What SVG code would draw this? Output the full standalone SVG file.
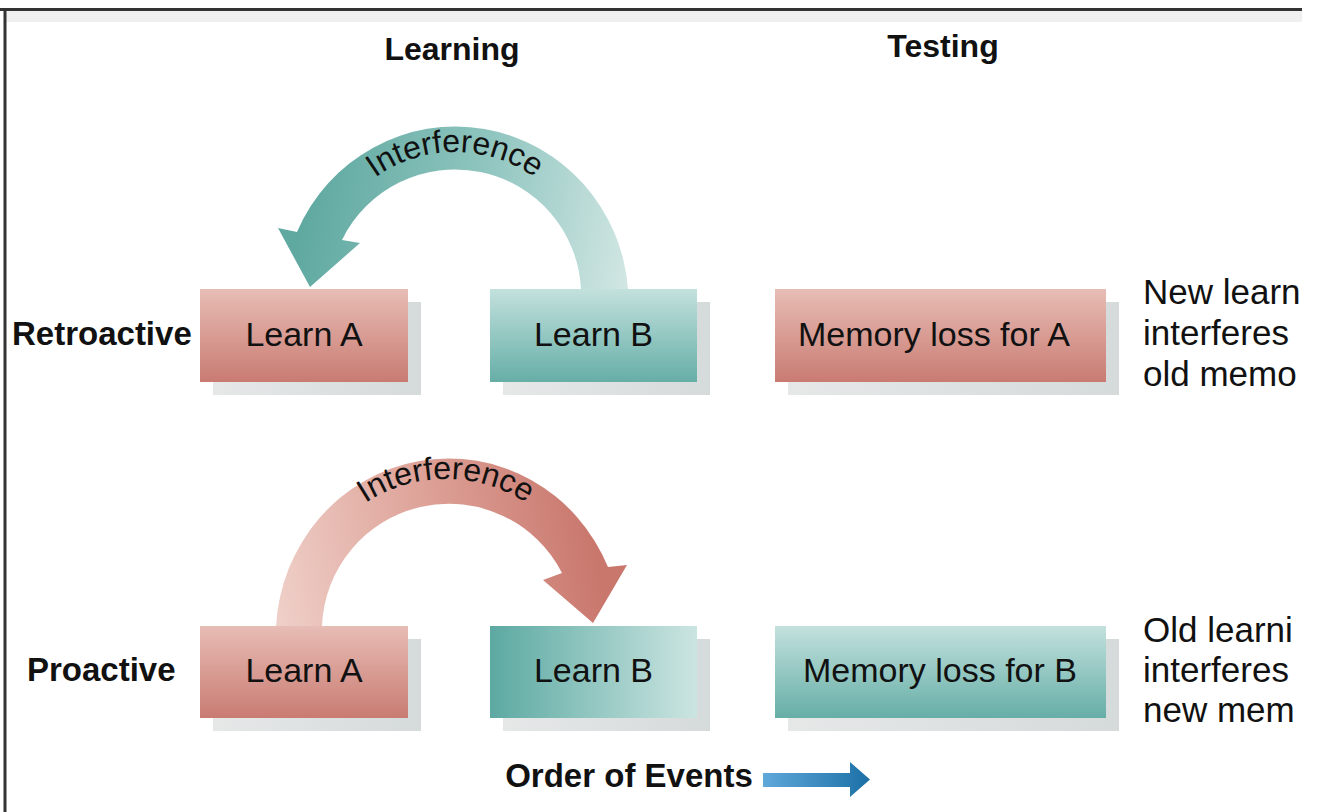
<svg xmlns="http://www.w3.org/2000/svg" width="1318" height="812" viewBox="0 0 1318 812">
<defs>
<linearGradient id="pinkV" x1="0" y1="0" x2="0" y2="1">
<stop offset="0" stop-color="#e7bdb5"/><stop offset="1" stop-color="#c97b72"/>
</linearGradient>
<linearGradient id="tealV" x1="0" y1="0" x2="0" y2="1">
<stop offset="0" stop-color="#c3e1dd"/><stop offset="1" stop-color="#66aea7"/>
</linearGradient>
<linearGradient id="tealH" x1="0" y1="0" x2="1" y2="0">
<stop offset="0" stop-color="#5ca9a2"/><stop offset="1" stop-color="#cbe5e1"/>
</linearGradient>
<linearGradient id="shadow" x1="0" y1="0" x2="1" y2="0">
<stop offset="0" stop-color="#e6e8e8"/><stop offset="1" stop-color="#d5dadb"/>
</linearGradient>
<linearGradient id="retroArrow" gradientUnits="userSpaceOnUse" x1="628" y1="290" x2="300" y2="230">
<stop offset="0" stop-color="#d2e7e4"/><stop offset="0.5" stop-color="#8ec4be"/><stop offset="1" stop-color="#5fa9a1"/>
</linearGradient>
<linearGradient id="proArrow" gradientUnits="userSpaceOnUse" x1="276" y1="626" x2="600" y2="570">
<stop offset="0" stop-color="#efd0c9"/><stop offset="0.5" stop-color="#dea399"/><stop offset="1" stop-color="#c9776d"/>
</linearGradient>
<linearGradient id="blueArrow" x1="0" y1="0" x2="1" y2="0">
<stop offset="0" stop-color="#5fa8da"/><stop offset="1" stop-color="#1c70a6"/>
</linearGradient>
<path id="retroTextPath" d="M 318 289 A 137 137 0 0 1 592 289"/>
<path id="proTextPath" d="M 299 626 A 147 147 0 0 1 593 626"/>
</defs>
<style>
.box-text{font-family:"Liberation Sans",Arial,sans-serif;font-size:34px;fill:#111;text-anchor:middle}
.head{font-family:"Liberation Sans",Arial,sans-serif;font-size:32px;font-weight:bold;fill:#111;text-anchor:middle}
.row{font-family:"Liberation Sans",Arial,sans-serif;font-size:33px;font-weight:bold;fill:#111}
.desc{font-family:"Liberation Sans",Arial,sans-serif;font-size:35px;fill:#111}
.arc-text{font-family:"Liberation Sans",Arial,sans-serif;font-size:32px;fill:#111}
.shadow{fill:url(#shadow)}
</style>
<rect x="0" y="0" width="1318" height="812" fill="#ffffff"/>
<g id="frame">
<rect x="4" y="11" width="1298" height="11" fill="#f0f0f0"/>
<line x1="0" y1="9.5" x2="1302" y2="9.5" stroke="#333" stroke-width="3"/>
<line x1="5" y1="9" x2="5" y2="812" stroke="#333" stroke-width="3"/>
</g>
<g id="headers">
<text class="head" x="452" y="60">Learning</text>
<text class="head" x="943" y="57">Testing</text>
</g>
<g id="row-labels">
<text class="row" x="12" y="345">Retroactive</text>
<text class="row" x="27" y="681">Proactive</text>
</g>
<g id="retro-learn-a">
<rect class="shadow" x="213" y="302" width="208" height="93"/>
<rect x="200" y="289" width="208" height="93" fill="url(#pinkV)"/>
<text class="box-text" x="304" y="346">Learn A</text>
</g>
<g id="retro-learn-b">
<rect class="shadow" x="503" y="302" width="207" height="93"/>
<rect x="490" y="289" width="207" height="93" fill="url(#tealV)"/>
<text class="box-text" x="593.5" y="346">Learn B</text>
</g>
<g id="retro-memory-loss">
<rect class="shadow" x="788" y="302" width="331" height="93"/>
<rect x="775" y="289" width="331" height="93" fill="url(#pinkV)"/>
<text class="box-text" x="934" y="346">Memory loss for A</text>
</g>
<g id="pro-learn-a">
<rect class="shadow" x="213" y="639" width="208" height="92"/>
<rect x="200" y="626" width="208" height="92" fill="url(#pinkV)"/>
<text class="box-text" x="304" y="682">Learn A</text>
</g>
<g id="pro-learn-b">
<rect class="shadow" x="503" y="639" width="207" height="92"/>
<rect x="490" y="626" width="207" height="92" fill="url(#tealH)"/>
<text class="box-text" x="593.5" y="682">Learn B</text>
</g>
<g id="pro-memory-loss">
<rect class="shadow" x="788" y="639" width="331" height="92"/>
<rect x="775" y="626" width="331" height="92" fill="url(#tealV)"/>
<text class="box-text" x="940" y="682">Memory loss for B</text>
</g>
<g id="descriptions">
<text class="desc" x="1143" y="304">New learn</text>
<text class="desc" x="1143" y="345">interferes</text>
<text class="desc" x="1143" y="386">old memo</text>
<text class="desc" x="1143" y="642">Old learni</text>
<text class="desc" x="1143" y="682">interferes</text>
<text class="desc" x="1143" y="722">new mem</text>
</g>
<g id="connectors">
<path d="M 628 289 A 173 176 0 0 0 297 232 L 278 228 L 310 287 L 360 243 L 342 240 A 126 126 0 0 1 581 289 Z" fill="url(#retroArrow)"/>
<text class="arc-text"><textPath href="#retroTextPath" startOffset="50%" text-anchor="middle">Interference</textPath></text>
<path d="M 276 626 A 173 178 0 0 1 608 567 L 627 565 L 593 623 L 543 580 L 562 573 A 127 127 0 0 0 322 626 Z" fill="url(#proArrow)"/>
<text class="arc-text"><textPath href="#proTextPath" startOffset="50%" text-anchor="middle">Interference</textPath></text>
</g>
<g id="order-of-events">
<text class="head" x="629" y="787" style="text-anchor:middle;font-size:33px">Order of Events</text>
<path d="M 763 773 L 850 773 L 850 762 L 870 779.5 L 850 797 L 850 787 L 763 787 Z" fill="url(#blueArrow)"/>
</g>
</svg>
